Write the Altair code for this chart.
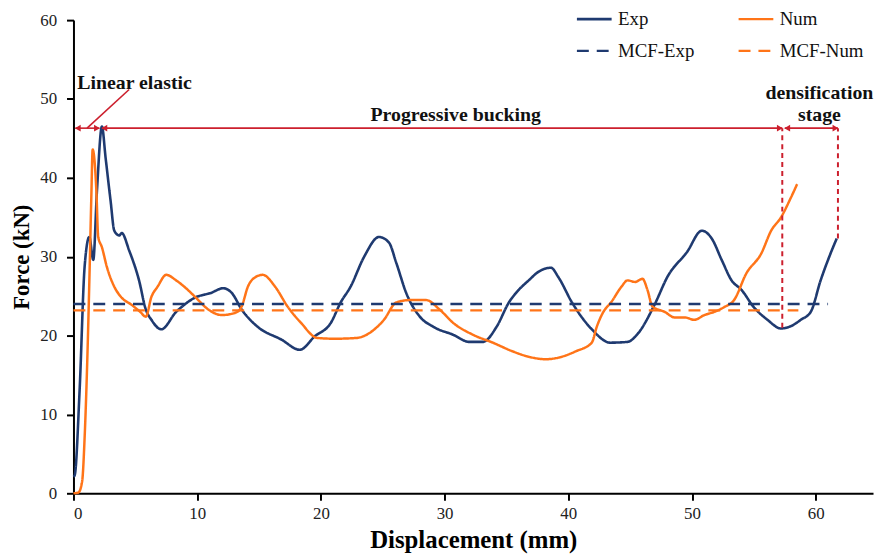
import altair as alt
import pandas as pd

# ---- data ----
exp_x = [0, 0.1, 0.5, 0.9, 1.28, 1.6, 1.9, 2.3, 2.6, 3.0, 3.3, 3.7, 3.9, 4.5, 5.3, 5.85, 6.3, 7.1,
         8.3, 8.8, 9.8, 11.1, 12.1, 12.8, 13.6, 14.9, 16.8, 18.3, 19.5, 20.8, 21.6, 22.4, 23.5,
         24.7, 25.5, 26.1, 26.9, 28.0, 29.1, 30.7, 32.0, 33.1, 34.2, 35.2, 36.0, 36.8, 37.6,
         38.6, 39.2, 40.3, 41.9, 43.4, 44.8, 45.6, 47.0, 48.0, 49.6, 50.8, 51.6, 52.4, 53.2,
         54.0, 55.0, 56.1, 57.2, 58.0, 58.8, 59.6, 60.4, 61.2, 61.7]
exp_y = [2.1, 2.3, 13.2, 28.7, 32.5, 29.6, 38.4, 46.5, 42.5, 37.1, 33.3, 32.7, 33.0, 30.8, 27.0,
         23.3, 22.0, 20.8, 23.0, 23.7, 24.8, 25.4, 26.0, 25.4, 23.3, 21.1, 19.5, 18.2, 19.9,
         21.6, 24.2, 26.2, 30.0, 32.5, 31.8, 29.2, 25.4, 22.4, 21.1, 20.1, 19.2, 19.2, 21.1,
         24.2, 25.8, 27.0, 28.1, 28.6, 27.4, 24.2, 20.8, 19.1, 19.2, 20.2, 24.0, 27.4, 30.6,
         33.3, 32.3, 29.6, 27.0, 25.8, 23.6, 22.0, 20.9, 21.2, 22.0, 23.0, 27.0, 30.4, 32.3]

num_x = [0, 0.4, 0.7, 0.9, 1.1, 1.3, 1.45, 1.55, 1.85, 2.0, 2.3, 2.7, 3.3, 3.9, 4.7, 5.4, 5.85,
         6.3, 6.8, 7.5, 8.3, 9.1, 9.9, 10.9, 12.0, 13.1, 13.6, 14.1, 14.7, 15.3, 16.3, 17.3,
         18.4, 19.7, 21.1, 22.9, 24.0, 25.1, 26.1, 27.2, 28.5, 29.6, 30.7, 32.3, 33.9, 35.5,
         36.6, 38.2, 39.2, 40.6, 41.9, 42.3, 42.8, 43.5, 44.3, 44.8, 45.4, 46.0, 46.4, 46.8,
         47.8, 48.6, 49.4, 50.2, 51.0, 51.8, 52.6, 53.4, 54.4, 55.6, 56.4, 57.2, 58.0, 58.5]
num_y = [0, 0.1, 1.5, 7, 16, 28, 38, 43.6, 38.4, 32.5, 31.2, 28.7, 26.2, 24.8, 23.9, 23.0, 22.4,
         24.9, 26.2, 27.7, 27.0, 26.0, 24.8, 23.3, 22.6, 22.9, 23.7, 26.2, 27.4, 27.7, 26.2,
         23.7, 21.6, 19.7, 19.6, 19.7, 20.4, 22.0, 24.2, 24.5, 24.5, 23.3, 21.6, 20.1, 19.1,
         18.0, 17.4, 17.0, 17.2, 18.0, 19.1, 21.1, 22.9, 24.3, 26.2, 27.0, 26.8, 27.2, 25.8,
         23.7, 23.0, 22.3, 22.3, 22.0, 22.6, 23.0, 23.6, 24.5, 27.9, 30.4, 33.3, 35.0, 37.5, 39.2]

mcf_exp = 24.0
mcf_exp_end = 61.0
mcf_num = 23.2
mcf_num_end = 58.6

series_names = ["Exp", "Num", "MCF-Exp", "MCF-Num"]
series_colors = ["#1F3A70", "#FF7418", "#1F3A70", "#FF7418"]
series_widths = [2.6, 2.3, 3.0, 3.0]
series_dashes = [[1, 0], [1, 0], [12, 8], [12, 8]]

# annotation geometry (data units: mm, kN)
arrow_y = 46.3
h_arrows = {"x": [0.15, 2.3, 57.5], "x2": [2.1, 57.3, 61.8]}
left_heads = [0.35, 2.5, 57.7]
right_heads = [1.9, 57.1, 61.6]
pointer = {"x": [1.1], "y": [46.3], "x2": [4.5], "y2": [51.2]}
v_dashes = {"x": [57.3, 61.8], "y": [21.0, 32.3], "y2": [46.3, 46.3]}
labels_txt = ["Linear elastic", "Progressive bucking", "densification", "stage"]
labels_x = [0.3, 30.9, 60.3, 60.3]
labels_y = [52.0, 47.9, 50.8, 47.9]
labels_align = ["left", "center", "center", "center"]

# ---- tables ----
rows = []
for x, y in zip(exp_x, exp_y):
    rows.append({"series": "Exp", "x": x, "y": y})
for x, y in zip(num_x, num_y):
    rows.append({"series": "Num", "x": x, "y": y})
rows += [{"series": "MCF-Exp", "x": 0, "y": mcf_exp}, {"series": "MCF-Exp", "x": mcf_exp_end, "y": mcf_exp}]
rows += [{"series": "MCF-Num", "x": 0, "y": mcf_num}, {"series": "MCF-Num", "x": mcf_num_end, "y": mcf_num}]
df = pd.DataFrame(rows)

RED = "#CC1F2D"
XMAX = 806 / 12.47
xs = alt.Scale(domain=[0, XMAX], nice=False, zero=False)
ys = alt.Scale(domain=[0, 60], nice=False)

legend = alt.Legend(
    orient="none", legendX=506, legendY=-20, columns=2, direction="horizontal", title=None,
    symbolType="stroke", symbolSize=1225, symbolStrokeWidth=3,
    labelFont="Liberation Serif", labelFontSize=19, labelColor="#111111",
    labelOffset=5, columnPadding=38, rowPadding=3,
)

lines = alt.Chart(df).mark_line(interpolate="monotone").encode(
    x=alt.X("x:Q", scale=xs, title="Displacement (mm)",
            axis=alt.Axis(values=[0, 10, 20, 30, 40, 50, 60], titleY=47, titleBaseline="middle")),
    y=alt.Y("y:Q", scale=ys, title="Force (kN)",
            axis=alt.Axis(values=[0, 10, 20, 30, 40, 50, 60], titleX=-52, titleBaseline="middle")),
    color=alt.Color("series:N", scale=alt.Scale(domain=series_names, range=series_colors), legend=legend),
    strokeDash=alt.StrokeDash("series:N", scale=alt.Scale(domain=series_names, range=series_dashes),
                              legend=legend),
    strokeWidth=alt.StrokeWidth("series:N", scale=alt.Scale(domain=series_names, range=series_widths),
                                legend=None),
    detail="series:N",
)

harr = alt.Chart(pd.DataFrame({"x": h_arrows["x"], "x2": h_arrows["x2"], "y": [arrow_y] * 3})).mark_rule(
    color=RED, strokeWidth=1.6).encode(x=alt.X("x:Q", scale=xs), x2="x2:Q", y=alt.Y("y:Q", scale=ys))

lh = alt.Chart(pd.DataFrame({"x": left_heads, "y": [arrow_y] * 3})).mark_point(
    shape="triangle-left", filled=True, size=45, color=RED, opacity=1).encode(
    x=alt.X("x:Q", scale=xs), y=alt.Y("y:Q", scale=ys))
rh = alt.Chart(pd.DataFrame({"x": right_heads, "y": [arrow_y] * 3})).mark_point(
    shape="triangle-right", filled=True, size=45, color=RED, opacity=1).encode(
    x=alt.X("x:Q", scale=xs), y=alt.Y("y:Q", scale=ys))

ptr = alt.Chart(pd.DataFrame(pointer)).mark_rule(color=RED, strokeWidth=1.6).encode(
    x=alt.X("x:Q", scale=xs), y=alt.Y("y:Q", scale=ys), x2="x2:Q", y2="y2:Q")

vd = alt.Chart(pd.DataFrame(v_dashes)).mark_rule(color=RED, strokeWidth=2, strokeDash=[5, 4]).encode(
    x=alt.X("x:Q", scale=xs), y=alt.Y("y:Q", scale=ys), y2="y2:Q")

tdf = pd.DataFrame({"x": labels_x, "y": labels_y, "t": labels_txt, "a": labels_align})
texts = []
for al in ["left", "center"]:
    texts.append(alt.Chart(tdf[tdf["a"] == al]).mark_text(
        font="Liberation Serif", fontWeight="bold", fontSize=20, color="#111111",
        align=al, baseline="middle").encode(
        x=alt.X("x:Q", scale=xs), y=alt.Y("y:Q", scale=ys), text="t:N"))

chart = alt.layer(lines, harr, lh, rh, ptr, vd, *texts).properties(
    width=806, height=477,
    autosize=alt.AutoSizeParams(type="none"),
    padding={"left": 66, "top": 10, "right": 2, "bottom": 62},
).configure_view(stroke=None).configure_axis(
    grid=False, domainColor="#000000", domainWidth=2, tickColor="#000000", tickWidth=2,
    tickSize=7, labelFont="Liberation Serif", labelFontSize=17, labelColor="#222222",
    titleFont="Liberation Serif", titleFontWeight="bold", titleColor="#000000",
).configure_axisY(labelPadding=10, titleFontSize=23).configure_axisX(labelPadding=5, titleFontSize=25)

chart.save("out.html", embed_options={"renderer": "svg", "actions": False})
